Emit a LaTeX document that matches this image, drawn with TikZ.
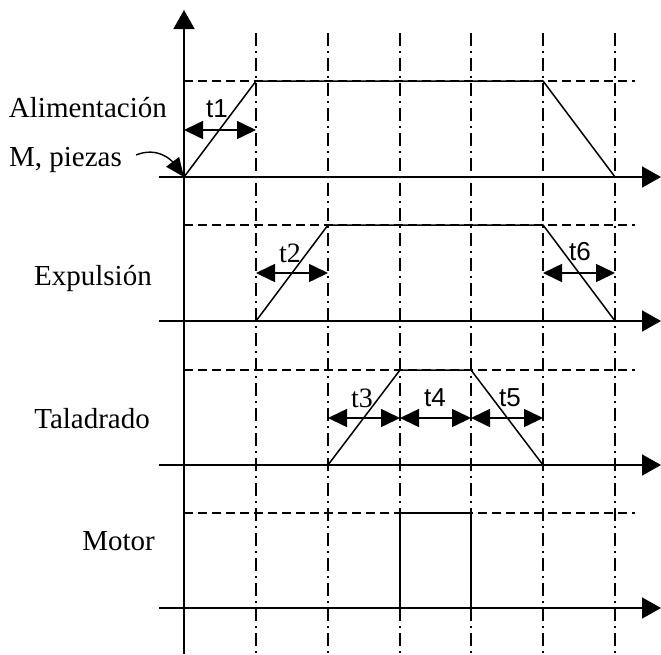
\documentclass[tikz,border=0pt]{standalone}
\usepackage{fontspec}
\setmainfont{Liberation Serif}
\newfontfamily\tsans{Liberation Sans}
\usetikzlibrary{arrows.meta}
\tikzset{
  axisline/.style={line width=1.6pt,draw=black},
  sigline/.style={line width=1.5pt,line join=miter},
  gridline/.style={line width=1.4pt,dash pattern=on 13pt off 5pt on 2pt off 5pt},
  levelline/.style={line width=1.4pt,dash pattern=on 9pt off 5pt},
  axisarrow/.style={axisline,-{Triangle[length=19pt,width=21pt]}},
  dimarrow/.style={line width=1.6pt,{Triangle[length=19pt,width=18pt]}-{Triangle[length=19pt,width=18pt]}},
  curvearrow/.style={line width=1.4pt,-{Triangle[length=19pt,width=16pt]}},
  sigtext/.style={anchor=base east,inner sep=0pt,font=\fontsize{29}{31}\selectfont},
  tlabel/.style={inner sep=0pt,font=\tsans\fontsize{26}{28}\selectfont},
  tlabelserif/.style={inner sep=0pt,font=\fontsize{28}{30}\selectfont}
}

\begin{document}
\begin{tikzpicture}[x=1pt,y=-1pt]
  \useasboundingbox (0,0) rectangle (661,654);

  % time marks
  \foreach \x in {256,328,400,471,543,615}
    \draw[gridline] (\x,33) -- (\x,654);

  % high levels
  \foreach \y in {81,225,370,513}
    \draw[levelline] (184,\y) -- (635,\y);

  % time axes
  \foreach \y in {177,321,465,608}
    \draw[axisarrow] (159,\y) -- (661,\y);
  \draw[axisarrow] (184,654) -- (184,10);
  \coordinate (org) at (184,177);

  % signals
  \draw[sigline] (184,177) -- (256,81) -- (543,81) -- (615,177);
  \draw[sigline] (256,321) -- (328,225) -- (543,225) -- (615,321);
  \draw[sigline] (328,465) -- (400,370) -- (471,370) -- (543,465);
  \draw[sigline] (400,608) -- (400,513) -- (471,513) -- (471,608);

  % names
  \node[sigtext] (alim) at (167,117) {Alimentación};
  \node[sigtext] (piezas) at (122,166) {M, piezas};
  \node[sigtext] (expul) at (152,285) {Expulsión};
  \node[sigtext] (tala) at (150,428) {Taladrado};
  \node[sigtext] (motor) at (155,550) {Motor};
  \draw[curvearrow] ([shift={(14,-11)}]piezas.base east)
    .. controls +(22,-9) and +(-12,-16) .. (org);

  % times
  \coordinate (d1a) at (184,130);  \coordinate (d1b) at (256,130);
  \coordinate (d2a) at (256,273);  \coordinate (d2b) at (328,273);
  \coordinate (d6a) at (543,273);  \coordinate (d6b) at (615,273);
  \coordinate (d3a) at (328,418);  \coordinate (d3b) at (400,418);
  \coordinate (d4b) at (471,418);  \coordinate (d5b) at (543,418);
  \draw[dimarrow] (d1a) -- (d1b);
  \draw[dimarrow] (d2a) -- (d2b);
  \draw[dimarrow] (d6a) -- (d6b);
  \draw[dimarrow] (d3a) -- (d3b);
  \draw[dimarrow] (d3b) -- (d4b);
  \draw[dimarrow] (d4b) -- (d5b);
  \node[tlabel] (t1) at (217,109) {t1};
  \node[tlabelserif] (t2) at (290,253) {t2};
  \node[tlabelserif] (t3) at (362,398) {t3};
  \node[tlabel] (t4) at (435,398) {t4};
  \node[tlabel] (t5) at (510,398) {t5};
  \node[tlabel] (t6) at (580,252) {t6};
\end{tikzpicture}
\end{document}
